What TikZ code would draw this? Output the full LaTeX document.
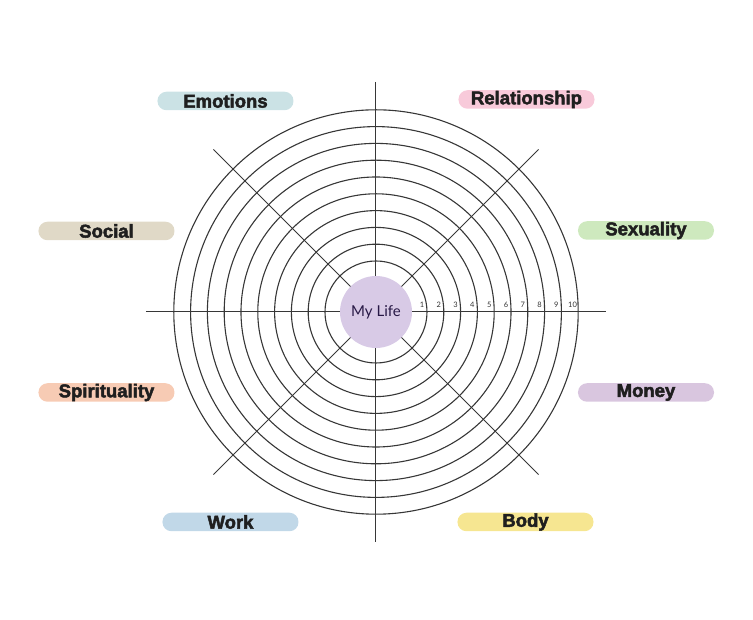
\documentclass[tikz,border=0pt]{standalone}
\usepackage{fontspec}
\usepackage{xcolor}
\newfontfamily\pillfont[BoldFeatures={FakeBold=2.6}]{Liberation Sans}
\newfontfamily\lifefont{Lato}
\definecolor{EmoColor}{RGB}{203,226,229}
\definecolor{RelColor}{RGB}{248,202,218}
\definecolor{SocColor}{RGB}{224,217,199}
\definecolor{SexColor}{RGB}{206,233,190}
\definecolor{SpiColor}{RGB}{247,203,180}
\definecolor{MonColor}{RGB}{217,198,223}
\definecolor{WorkColor}{RGB}{193,216,232}
\definecolor{BodyColor}{RGB}{246,230,145}
\definecolor{LifeColor}{RGB}{216,202,230}
\definecolor{LifeText}{RGB}{40,25,70}
\definecolor{RingColor}{RGB}{55,55,55}
\usetikzlibrary{positioning}

\begin{document}
\begin{tikzpicture}[
    x=1pt, y=1pt,
    ring/.style={draw=RingColor, line width=1.1pt},
    spoke/.style={draw=RingColor, line width=1pt},
    pill/.style={rectangle, rounded corners=9pt, minimum width=136pt, minimum height=18.5pt, inner sep=0pt, text=black!88, font=\pillfont\bfseries\fontsize{18.5}{18.5}\selectfont},
    center/.style={circle, fill=LifeColor, minimum size=72pt, inner sep=0pt, text=LifeText, font=\lifefont\fontsize{15}{15}\selectfont},
    num/.style={font=\lifefont\fontsize{7.5}{7.5}\selectfont, inner sep=0pt, text=black!80},
]

% ============================================
% FRAME
% ============================================
\useasboundingbox (-376,-308) rectangle (377,312);

% ============================================
% SPOKES
% ============================================
\coordinate (c) at (0,0);
\coordinate (n) at (0,230);
\coordinate (s) at (0,-230);
\coordinate (e) at (230,0);
\coordinate (w) at (-230,0);
\coordinate (ne) at (162.6,162.6);
\coordinate (nw) at (-162.6,162.6);
\coordinate (se) at (162.6,-162.6);
\coordinate (sw) at (-162.6,-162.6);

\draw[spoke] (n) -- (s);
\draw[spoke] (w) -- (e);
\draw[spoke] (nw) -- (se);
\draw[spoke] (ne) -- (sw);

% ============================================
% RINGS 1..10
% ============================================
\draw[ring] (c) circle (51);
\draw[ring] (c) circle (67.8);
\draw[ring] (c) circle (84.6);
\draw[ring] (c) circle (101.4);
\draw[ring] (c) circle (118.2);
\draw[ring] (c) circle (135);
\draw[ring] (c) circle (151.8);
\draw[ring] (c) circle (168.6);
\draw[ring] (c) circle (185.4);
\draw[ring] (c) circle (202.2);

% ============================================
% SCALE NUMBERS
% ============================================
\node[num] (n1) at (46,7) {1};
\node[num] (n2) at (62.8,7) {2};
\node[num] (n3) at (79.6,7) {3};
\node[num] (n4) at (96.4,7) {4};
\node[num] (n5) at (113.2,7) {5};
\node[num] (n6) at (130,7) {6};
\node[num] (n7) at (146.8,7) {7};
\node[num] (n8) at (163.6,7) {8};
\node[num] (n9) at (180.4,7) {9};
\node[num] (n10) at (196.6,7) {10};

% ============================================
% CENTER
% ============================================
\node[center] (life) at (c) {My Life};

% ============================================
% AREA LABELS
% ============================================
\node[pill, fill=EmoColor] (emotions) at (-150.5,211) {Emotions};
\node[pill, fill=RelColor] (relationship) at (150.5,212.5) {Relationship};
\node[pill, fill=SocColor] (social) at (-269.5,81) {Social};
\node[pill, fill=SexColor] (sexuality) at (270,81.5) {Sexuality};
\node[pill, fill=SpiColor] (spirituality) at (-269.5,-80.5) {Spirituality};
\node[pill, fill=MonColor] (money) at (270,-80.5) {Money};
\node[pill, fill=WorkColor] (work) at (-145.5,-210) {Work};
\node[pill, fill=BodyColor] (body) at (149.5,-210) {Body};

\end{tikzpicture}
\end{document}
